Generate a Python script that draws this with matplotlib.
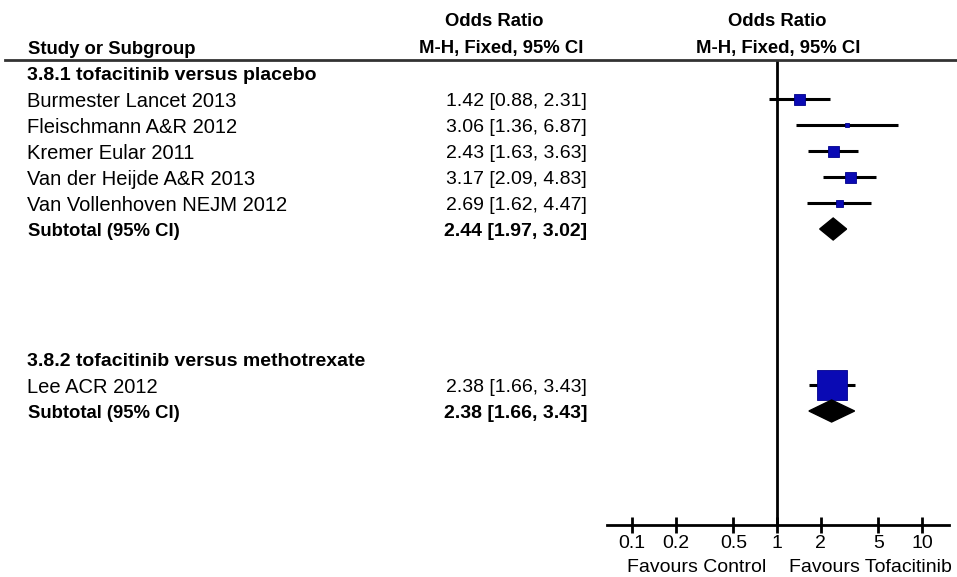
import matplotlib
matplotlib.use("Agg")
import matplotlib.pyplot as plt
from matplotlib import transforms
from matplotlib.lines import Line2D
from matplotlib.patches import Polygon
import numpy as np

# ---- data ----
group1_title = "3.8.1 tofacitinib versus placebo"
group1_studies = ["Burmester Lancet 2013", "Fleischmann A&R 2012", "Kremer Eular 2011",
                  "Van der Heijde A&R 2013", "Van Vollenhoven NEJM 2012"]
group1_or = [1.42, 3.06, 2.43, 3.17, 2.69]
group1_lo = [0.88, 1.36, 1.63, 2.09, 1.62]
group1_hi = [2.31, 6.87, 3.63, 4.83, 4.47]
group1_total = (2.44, 1.97, 3.02)

group2_title = "3.8.2 tofacitinib versus methotrexate"
group2_studies = ["Lee ACR 2012"]
group2_or = [2.38]
group2_lo = [1.66]
group2_hi = [3.43]
group2_total = (2.38, 1.66, 3.43)

tick_values = [0.1, 0.2, 0.5, 1, 2, 5, 10]
tick_labels = ["0.1", "0.2", "0.5", "1", "2", "5", "10"]

# ---- style ----
W, H = 957, 577
REG = ["Liberation Sans", "DejaVu Sans"]
BLUE = "#0a0ab4"
g1_marker_px = [11, 5, 11, 11, 7]
g2_marker_px = [30]

fig = plt.figure(figsize=(W / 100, H / 100), dpi=100)
fig.patch.set_facecolor("white")

# forest plot panel, log odds-ratio scale
ax_left, ax_right, ax_top, ax_bottom = 607, 949, 60, 525
ax = fig.add_axes([ax_left / W, 1 - ax_bottom / H, (ax_right - ax_left) / W, (ax_bottom - ax_top) / H])
ax.set_xscale("log")
ax.set_xlim(10 ** -1.172, 10 ** 1.186)
row0_px, row_px = 73, 26
ax.set_ylim((ax_bottom - row0_px) / row_px, (ax_top - row0_px) / row_px)
for s in ["top", "left", "right"]:
    ax.spines[s].set_visible(False)
ax.spines["bottom"].set_linewidth(2)
ax.set_yticks([])
ax.set_xticks(tick_values)
ax.set_xticklabels(tick_labels, family=REG, fontsize=14)
ax.xaxis.set_minor_locator(matplotlib.ticker.NullLocator())
ax.tick_params(axis="x", direction="inout", length=12, width=2, pad=1)
ax.axvline(1, color="black", lw=2, zorder=1)
ax.patch.set_alpha(0)

# row layout
g1_header = 0
g1_rows = np.arange(1, 1 + len(group1_studies))
g1_sub = g1_rows[-1] + 1
g2_header = 11
g2_rows = np.arange(g2_header + 1, g2_header + 1 + len(group2_studies))
g2_sub = g2_rows[-1] + 1


def draw_study(y, orv, lo, hi, size_px):
    ax.plot([lo, hi], [y, y], color="black", lw=2.2, solid_capstyle="butt", zorder=2)
    ax.plot([orv], [y], marker="s", ms=size_px * 0.72, color=BLUE, mec="#00008c", mew=0.6, zorder=3)


def draw_diamond(y, orv, lo, hi, half_h=11):
    dy = half_h / row_px
    ax.add_patch(Polygon([[lo, y], [orv, y - dy], [hi, y], [orv, y + dy]],
                         closed=True, color="black", zorder=3))


for y, o, l, h, s in zip(g1_rows, group1_or, group1_lo, group1_hi, g1_marker_px):
    draw_study(y, o, l, h, s)
draw_diamond(g1_sub, *group1_total)
for y, o, l, h, s in zip(g2_rows, group2_or, group2_lo, group2_hi, g2_marker_px):
    draw_study(y, o, l, h, s)
draw_diamond(g2_sub, *group2_total)

# text columns (labels sit a little below the marker centre line)
tr = transforms.blended_transform_factory(fig.transFigure, ax.transData)
txt_dy = 2.5 / row_px
name_x = 27 / W
val_x = 587 / W


def fmt(o, l, h):
    return f"{o:.2f} [{l:.2f}, {h:.2f}]"


def label_rows(title, header_row, rows, studies, ors, los, his, sub_row, total):
    fig.text(name_x, header_row + txt_dy, title, transform=tr, va="center", ha="left",
             family=REG, fontsize=14, fontweight="bold")
    for y, n, o, l, h in zip(rows, studies, ors, los, his):
        fig.text(name_x, y + txt_dy, n, transform=tr, va="center", ha="left",
                 family=REG, fontsize=14.5)
        fig.text(val_x, y + txt_dy, fmt(o, l, h), transform=tr, va="center", ha="right",
                 family=REG, fontsize=14)
    fig.text(name_x + 1 / W, sub_row + txt_dy, "Subtotal (95% CI)", transform=tr, va="center",
             ha="left", family=REG, fontsize=13.3, fontweight="bold")
    fig.text(val_x, sub_row + txt_dy, fmt(*total), transform=tr, va="center", ha="right",
             family=REG, fontsize=14, fontweight="bold")


label_rows(group1_title, g1_header, g1_rows, group1_studies, group1_or, group1_lo, group1_hi,
           g1_sub, group1_total)
label_rows(group2_title, g2_header, g2_rows, group2_studies, group2_or, group2_lo, group2_hi,
           g2_sub, group2_total)

# column headers
hdr = dict(family=REG, fontsize=13.3, fontweight="bold", va="center")
fig.text(28 / W, 1 - 49 / H, "Study or Subgroup", ha="left", **hdr)
fig.text(494 / W, 1 - 21 / H, "Odds Ratio", ha="center", **hdr)
fig.text(501 / W, 1 - 48 / H, "M-H, Fixed, 95% CI", ha="center", **hdr)
fig.text(777 / W, 1 - 21 / H, "Odds Ratio", ha="center", **hdr)
fig.text(778 / W, 1 - 48 / H, "M-H, Fixed, 95% CI", ha="center", **hdr)
fig.add_artist(Line2D([5 / W, 1], [1 - 60 / H, 1 - 60 / H], transform=fig.transFigure,
                      color="#333333", lw=2))

# direction labels under the axis
fig.text(697 / W, 1 - 567 / H, "Favours Control", ha="center", va="center", family=REG, fontsize=14)
fig.text(870 / W, 1 - 567 / H, "Favours Tofacitinib", ha="center", va="center", family=REG, fontsize=14)

fig.savefig("out.png", dpi=100, facecolor="white")
